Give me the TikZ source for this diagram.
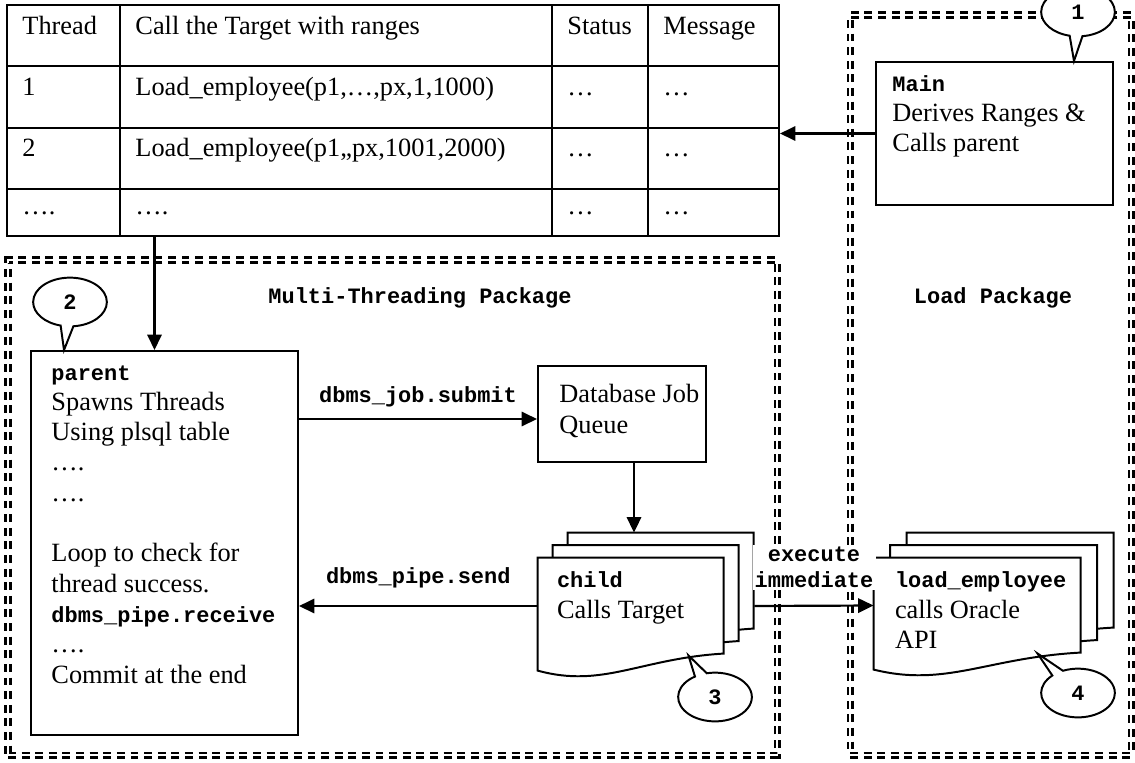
\documentclass[tikz,border=0pt]{standalone}
\usepackage{fontspec}
\setmainfont{Liberation Serif}
\setmonofont{Liberation Mono}
\usepackage{tikz}
\usetikzlibrary{arrows.meta,positioning,shapes.callouts,fit,calc}
\newcommand\code[1]{{\ttfamily\bfseries\fontsize{10}{13.8}\selectfont #1}}
\tikzset{
  pics/docpage/.style 2 args={code={
    \filldraw[fill=white,line width=0.9pt] (0,0) -- (#1,0) -- (#1,#2)
      .. controls ({0.55*#1},{#2+5}) and ({0.35*#1},{#2+35}) .. (0,{#2+17}) -- cycle;
  }}
}

\begin{document}
\begin{tikzpicture}[x=0.016cm,y=-0.016cm,font=\fontsize{12}{13.8}\selectfont,
  box/.style={draw,line width=0.9pt,inner sep=0pt},
  pkgframe/.style={draw,line width=1.1pt,double,double distance=1pt,dash pattern=on 3.6pt off 2.6pt,inner sep=0pt},
  txt/.style={anchor=north west,align=left,inner sep=0pt},
  cell/.style={anchor=base west,inner sep=0pt},
  lbl/.style={font=\ttfamily\bfseries\fontsize{10}{12}\selectfont,inner sep=0pt},
  arr/.style={line width=1pt,-{Triangle[length=7pt,width=6.5pt]}},
  bubble/.style={ellipse callout,draw,fill=white,line width=0.9pt,minimum width=1.18cm,minimum height=0.78cm,
    callout pointer arc=20,font=\ttfamily\bfseries\fontsize{10}{12}\selectfont}]
\useasboundingbox (0,0) rectangle (1135,762);

% packages
\node[pkgframe,fit={(8,260) (777,755)}] (mtpkg) {};
\node[pkgframe,fit={(850,15) (1131,755)}] (ldpkg) {};
\node[lbl] (mtlabel) at (420,298) {Multi-Threading Package};
\node[lbl] (ldlabel) at (993,298) {Load Package};

% plsql table
\node[box,fit={(7,5) (779,236)}] (tbl) {};
\foreach \cx in {120,552,648} \draw[line width=0.9pt] (\cx,5) -- (\cx,236);
\foreach \ry in {66,128,189} \draw[line width=0.9pt] (7,\ry) -- (779,\ry);
\node[cell] (hthread) at (22,34) {Thread};
\node[cell] (hcall) at (135,34) {Call the Target with ranges};
\node[cell] (hstatus) at (567,34) {Status};
\node[cell] (hmsg) at (663,34) {Message};
\node[cell] (rthreada) at (22,95) {1};
\node[cell] (rcalla) at (135,95) {Load\_employee(p1,…,px,1,1000)};
\node[cell] (rstatusa) at (567,95) {…};
\node[cell] (rmsga) at (663,95) {…};
\node[cell] (rthreadb) at (22,156) {2};
\node[cell] (rcallb) at (135,156) {Load\_employee(p1,,px,1001,2000)};
\node[cell] (rstatusb) at (567,156) {…};
\node[cell] (rmsgb) at (663,156) {…};
\node[cell] (rthreadc) at (22,214) {….};
\node[cell] (rcallc) at (135,214) {….};
\node[cell] (rstatusc) at (567,214) {…};
\node[cell] (rmsgc) at (663,214) {…};

% boxes
\node[box,fit={(876,62) (1113,205)}] (main) {};
\node[txt] (maintxt) at ([shift={(17,14)}]main.north west) {\code{Main}\\Derives Ranges \&\\Calls parent};

\node[box,fit={(31,351) (298,735)}] (parent) {};
\node[txt] (parenttxt) at ([shift={(21,15)}]parent.north west)
  {\code{parent}\\Spawns Threads\\Using plsql table\\….\\….\\[13.8pt]Loop to check for\\thread success.\\\code{dbms\_pipe.receive}\\….\\Commit at the end};

\node[box,fit={(538,366) (706,462)}] (queue) {};
\node[txt] (queuetxt) at ([shift={(22,19)}]queue.north west) {Database Job\\Queue};

\node[fit={(538,558) (724,654)},inner sep=0pt] (child) {};
\foreach \k in {2,1,0} \pic at ($(child.north west)+(15*\k,-12.5*\k)$) {docpage={186}{96}};
\node[txt] (childtxt) at ([shift={(19,14)}]child.north west) {\code{child}\\Calls Target};

\node[fit={(874,558) (1081,653)},inner sep=0pt] (load) {};
\foreach \k in {2,1,0} \pic at ($(load.north west)+(16.5*\k,-12.5*\k)$) {docpage={207}{95}};
\node[txt] (loadtxt) at ([shift={(21,14)}]load.north west) {\code{load\_employee}\\calls Oracle\\API};

% connectors
\draw[arr] (main.west) -- (main.west -| tbl.east);
\coordinate (drop) at ($(parent.north)+(-10,0)$);
\draw[arr] (drop |- tbl.south) -- (drop);
\coordinate (qin) at ($(queue.west)+(0,5)$);
\draw[arr] (qin -| parent.east) -- node[lbl,above=5pt] {dbms\_job.submit} (qin);
\coordinate (qdrop) at ($(queue.south)+(12,0)$);
\coordinate (childtop) at ($(child.north west)+(30,-25)$);
\draw[arr] (qdrop) -- (qdrop |- childtop);
\draw[arr] (child.west) -- node[lbl,above=7.5pt] {dbms\_pipe.send} (child.west -| parent.east);
\coordinate (childback) at ($(child.east)+(30,0)$);
\draw[arr] (childback) -- node[lbl,above=6.5pt,align=center,fill=white,inner sep=1pt] {execute\\immediate} (load.west);

% callouts
\node[bubble,callout absolute pointer={($(main.north east)+(-40,0)$)}] (note1) at (1078,12) {1};
\node[bubble,callout absolute pointer={($(parent.north west)+(34,0)$)}] (note2) at (70,302) {2};
\node[bubble,callout absolute pointer={($(child.south east)+(-36,1)$)}] (note3) at (715,697) {3};
\node[bubble,callout absolute pointer={($(load.south east)+(-44,0)$)}] (note4) at (1078,693) {4};
\end{tikzpicture}
\end{document}
